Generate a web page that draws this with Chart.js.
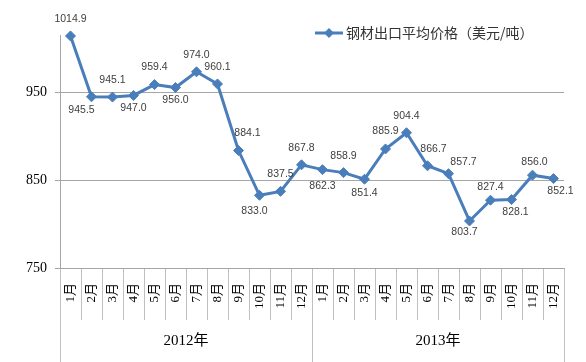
<!DOCTYPE html>
<html>
<head>
<meta charset="utf-8">
<title>钢材出口平均价格</title>
<script src="https://cdn.jsdelivr.net/npm/chart.js@4.4.1/dist/chart.umd.min.js"></script>
<style>
  html, body { margin: 0; padding: 0; background: #fff; }
  #wrap { width: 586px; height: 362px; position: relative; }
</style>
</head>
<body>
<div id="wrap"><canvas id="priceChart"></canvas></div>
<script>
// Data
const months = [
  "1月", "2月", "3月", "4月", "5月", "6月", "7月", "8月", "9月", "10月", "11月", "12月",
  "1月", "2月", "3月", "4月", "5月", "6月", "7月", "8月", "9月", "10月", "11月", "12月"
];
const years = ["2012年", "2013年"];
const prices = [
  1014.9, 945.5, 945.1, 947.0, 959.4, 956.0, 974.0, 960.1, 884.1, 833.0, 837.5, 867.8,
  862.3, 858.9, 851.4, 885.9, 904.4, 866.7, 857.7, 803.7, 827.4, 828.1, 856.0, 852.1
];
const seriesName = "钢材出口平均价格（美元/吨）";
const yTicks = [750, 850, 950];

const lineColor = "#4a7ebb";

// Value labels above / below each point (shift from the point, px)
const labelShift = [
  [0, -17], [-10, 13], [0, -17], [0, 13], [0, -17], [0, 13],
  [0, -17], [0, -17], [9, -17], [-5, 16], [0, -17], [0, -17],
  [0, 16], [0, -17], [0, 14], [0, -18], [0, -17], [6, -17],
  [15, -12], [-5, 11], [0, -13], [4, 13], [2, -13], [7, 13]
];

const pointLabels = {
  id: "pointLabels",
  afterDatasetsDraw(chart) {
    const ctx = chart.ctx;
    const meta = chart.getDatasetMeta(0);
    ctx.save();
    ctx.font = '10.5px "Liberation Sans", Arial, sans-serif';
    ctx.fillStyle = "#404040";
    ctx.textAlign = "center";
    ctx.textBaseline = "middle";
    meta.data.forEach((pt, i) => {
      const shift = labelShift[i];
      ctx.fillText(prices[i].toFixed(1), pt.x + shift[0], pt.y + shift[1]);
    });
    ctx.restore();
  }
};

// Legend drawn in the top right, overlapping the plot top like the original
const seriesKey = {
  id: "seriesKey",
  afterDraw(chart) {
    const ctx = chart.ctx;
    const y = 33;
    ctx.save();
    ctx.strokeStyle = lineColor;
    ctx.lineWidth = 3;
    ctx.beginPath();
    ctx.moveTo(315, y);
    ctx.lineTo(343, y);
    ctx.stroke();
    ctx.fillStyle = lineColor;
    ctx.beginPath();
    ctx.moveTo(329, y - 5);
    ctx.lineTo(334, y);
    ctx.lineTo(329, y + 5);
    ctx.lineTo(324, y);
    ctx.closePath();
    ctx.fill();
    ctx.font = '14px "Noto Sans CJK SC", sans-serif';
    ctx.fillStyle = "#333";
    ctx.textAlign = "left";
    ctx.textBaseline = "middle";
    ctx.fillText(seriesName, 346, y);
    ctx.restore();
  }
};

const serifFont = '"Liberation Serif", "Noto Sans CJK SC", serif';

new Chart(document.getElementById("priceChart").getContext("2d"), {
  type: "line",
  data: {
    labels: months,
    datasets: [
      {
        label: seriesName,
        data: prices,
        borderColor: lineColor,
        backgroundColor: lineColor,
        borderWidth: 3,
        tension: 0,
        clip: false,
        pointStyle: "rectRot",
        pointRadius: 5,
        pointBackgroundColor: lineColor,
        pointBorderColor: lineColor,
        pointBorderWidth: 1,
      },
    ],
  },
  options: {
    responsive: true,
    maintainAspectRatio: false,
    devicePixelRatio: 1,
    animation: false,
    layout: { padding: { top: 35, right: 22, bottom: 0, left: 0 } },
    plugins: {
      legend: { display: false },
      tooltip: { enabled: false },
    },
    scales: {
      x: {
        type: "category",
        offset: true,
        weight: 0,
        grid: {
          offset: true,
          drawOnChartArea: false,
          tickLength: 52,
          color: "#c0c0c0",
        },
        border: { display: true, color: "#a6a6a6" },
        ticks: {
          autoSkip: false,
          minRotation: 90,
          maxRotation: 90,
          padding: -37,
          color: "#000",
          font: { family: serifFont, size: 13 },
        },
        afterFit(scale) {
          scale.height = 52;
        },
      },
      x2: {
        type: "category",
        labels: years,
        position: "bottom",
        offset: true,
        weight: 1,
        grid: {
          offset: true,
          drawOnChartArea: false,
          tickLength: 42,
          color: "#c0c0c0",
        },
        border: { display: false },
        ticks: {
          minRotation: 0,
          maxRotation: 0,
          padding: -30,
          color: "#000",
          font: { family: serifFont, size: 15 },
        },
        afterFit(scale) {
          scale.height = 42;
        },
      },
      y: {
        min: 750,
        max: 1016,
        border: { color: "#a6a6a6" },
        grid: { color: "#a6a6a6", tickLength: 5 },
        ticks: {
          padding: 8,
          color: "#000",
          font: { family: serifFont, size: 14 },
        },
        afterBuildTicks(scale) {
          scale.ticks = yTicks.map((v) => ({ value: v }));
        },
        afterFit(scale) {
          scale.width = 60;
        },
      },
    },
  },
  plugins: [pointLabels, seriesKey],
});
</script>
</body>
</html>
